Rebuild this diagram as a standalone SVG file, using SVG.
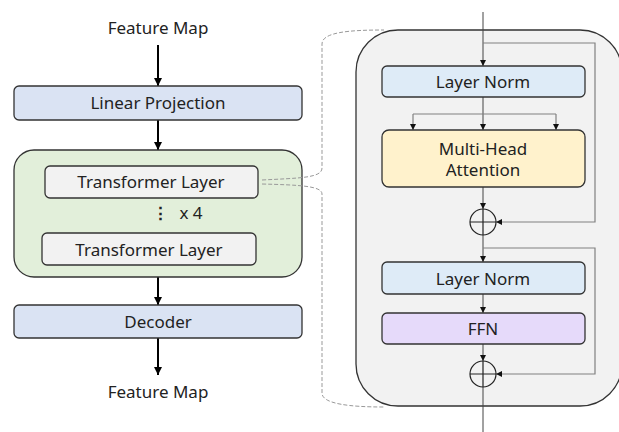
<svg xmlns="http://www.w3.org/2000/svg" width="619" height="432" viewBox="0 0 619 432">
<defs>
<style>
text{font-family:"Noto Sans","Open Sans","Liberation Sans",sans-serif;font-size:17px;fill:#222;text-anchor:middle}
.box{stroke:#333;stroke-width:1.3}
.thick{stroke:#000;stroke-width:2;fill:none}
.thin{stroke:#444;stroke-width:1;fill:none}
.res{stroke:#808080;stroke-width:1.2;fill:none}
.dash{stroke:#999;stroke-width:1;fill:none;stroke-dasharray:4 2}
</style>
<marker id="ah" viewBox="0 0 10 10" refX="10" refY="5" markerWidth="4" markerHeight="4" orient="auto" markerUnits="strokeWidth"><path d="M0,0L10,5L0,10z" fill="#000"/></marker>
<marker id="as" viewBox="0 0 10 10" refX="10" refY="5" markerWidth="6" markerHeight="6" orient="auto" markerUnits="userSpaceOnUse"><path d="M0,0L10,5L0,10z" fill="#111"/></marker>
</defs>
<rect width="619" height="432" fill="#fff"/>
<g id="detail-panel"><rect class="box" x="356" y="30" width="266" height="376" rx="42" fill="#f2f2f2"/></g>
<g id="connectors">
<line class="thick" x1="158" y1="45" x2="158" y2="86" marker-end="url(#ah)"/>
<line class="thick" x1="158" y1="120" x2="158" y2="150" marker-end="url(#ah)"/>
<line class="thick" x1="158" y1="277" x2="158" y2="305" marker-end="url(#ah)"/>
<line class="thick" x1="158" y1="338" x2="158" y2="375" marker-end="url(#ah)"/>
<line class="thin" x1="483" y1="12" x2="483" y2="66" marker-end="url(#as)"/>
<line class="thin" x1="483" y1="97" x2="483" y2="130" marker-end="url(#as)"/>
<path class="res" d="M413,114 H556"/>
<line class="res" x1="413" y1="114" x2="413" y2="130" marker-end="url(#as)"/>
<line class="res" x1="556" y1="114" x2="556" y2="130" marker-end="url(#as)"/>
<line class="thin" x1="483" y1="187" x2="483" y2="209" marker-end="url(#as)"/>
<path class="res" d="M483,43 H595 V222 H496" marker-end="url(#as)"/>
<line class="thin" x1="483" y1="235" x2="483" y2="262" marker-end="url(#as)"/>
<path class="res" d="M483,248 H595 V374 H496" marker-end="url(#as)"/>
<line class="thin" x1="483" y1="294" x2="483" y2="313" marker-end="url(#as)"/>
<line class="thin" x1="483" y1="344" x2="483" y2="361" marker-end="url(#as)"/>
<line class="thin" x1="483" y1="387" x2="483" y2="432"/>
</g>
<g id="top-label"><text x="158" y="34">Feature Map</text></g>
<g id="linear-projection"><rect class="box" x="14" y="86" width="288" height="34" rx="5" fill="#dae3f3"/><text x="158" y="109">Linear Projection</text></g>
<g id="transformer-stack"><rect class="box" x="14" y="150" width="288" height="127" rx="20" fill="#e2efda"/></g>
<g id="transformer-layer-1"><rect class="box" x="45" y="166" width="213" height="32" rx="5" fill="#f2f2f2"/><text x="151" y="188">Transformer Layer</text></g>
<g id="repeat"><text x="160" y="219" font-weight="bold">⋮</text><text x="191" y="219">x 4</text></g>
<g id="transformer-layer-2"><rect class="box" x="42" y="233" width="214" height="32" rx="5" fill="#f2f2f2"/><text x="149" y="256">Transformer Layer</text></g>
<g id="decoder"><rect class="box" x="14" y="305" width="288" height="33" rx="5" fill="#dae3f3"/><text x="158" y="328">Decoder</text></g>
<g id="bottom-label"><text x="158" y="398">Feature Map</text></g>
<g id="layer-norm-1"><rect class="box" x="382" y="66" width="203" height="31" rx="5" fill="#deebf7"/><text x="483" y="88">Layer Norm</text></g>
<g id="mha"><rect class="box" x="382" y="130" width="203" height="57" rx="7" fill="#fff2cc"/><text x="483" y="155">Multi-Head</text><text x="483" y="176">Attention</text></g>
<g id="add-1"><circle cx="483" cy="222" r="13" fill="none" stroke="#222" stroke-width="1.2"/><path d="M470,222H496M483,209V235" stroke="#222" stroke-width="1.2"/></g>
<g id="layer-norm-2"><rect class="box" x="382" y="262" width="203" height="32" rx="5" fill="#deebf7"/><text x="483" y="285">Layer Norm</text></g>
<g id="ffn"><rect class="box" x="382" y="313" width="203" height="31" rx="5" fill="#e6dafa"/><text x="483" y="335">FFN</text></g>
<g id="add-2"><circle cx="483" cy="374" r="13" fill="none" stroke="#222" stroke-width="1.2"/><path d="M470,374H496M483,361V387" stroke="#222" stroke-width="1.2"/></g>
<g id="zoom-connectors">
<path class="dash" d="M262,180 C300,178 322,178 322,168 L322,44 C322,32 350,30 384,30"/>
<path class="dash" d="M262,184 C300,185 322,186 322,194 L322,393 C322,404 350,407 384,407"/>
</g>
</svg>
